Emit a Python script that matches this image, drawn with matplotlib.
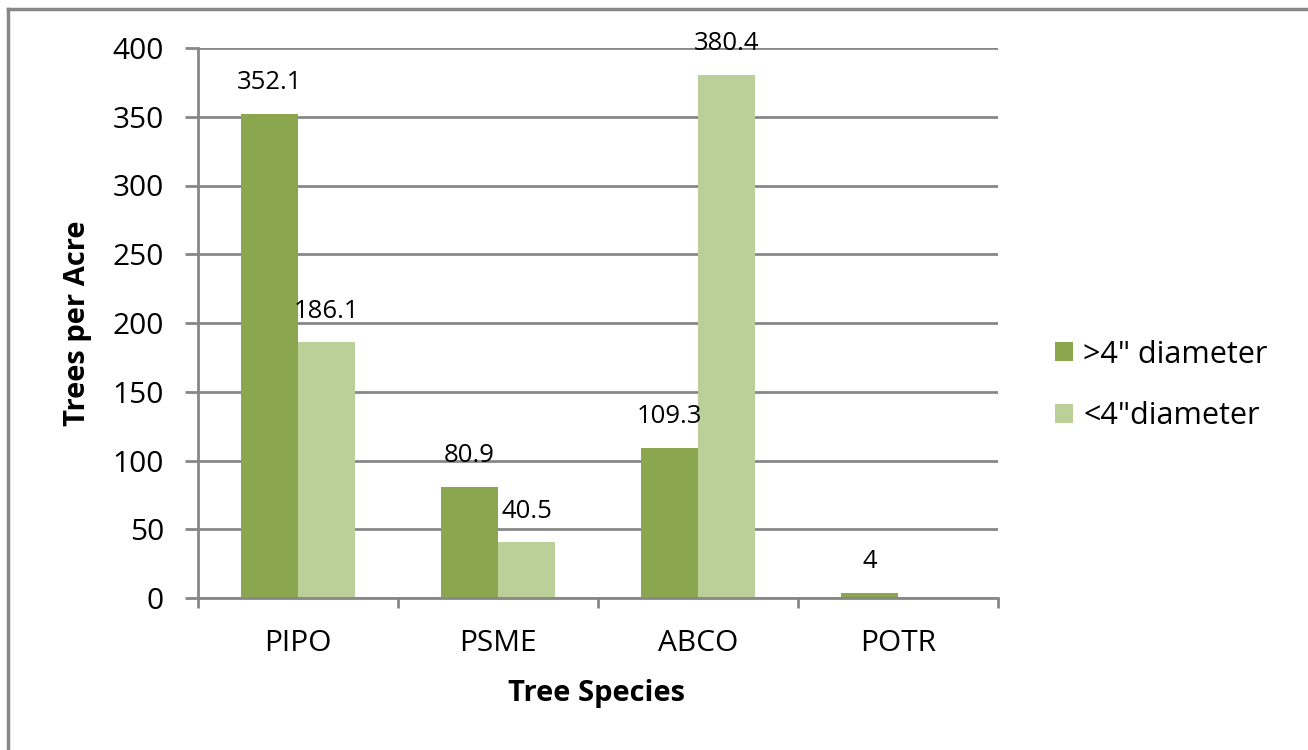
import matplotlib
matplotlib.use("Agg")
import matplotlib.pyplot as plt
import numpy as np
from matplotlib.lines import Line2D

categories = ["PIPO", "PSME", "ABCO", "POTR"]
series_names = ['>4" diameter', '<4"diameter']
large_vals = [352.1, 80.9, 109.3, 4]
small_vals = [186.1, 40.5, 380.4, None]
y_ticks = [0, 50, 100, 150, 200, 250, 300, 350, 400]

dark = "#8AA64F"
light = "#BBD098"
gray = "#878787"

plt.rcParams['font.family'] = ['Open Sans', 'DejaVu Sans']

fig = plt.figure(figsize=(13.08, 7.5), dpi=100)
ax = fig.add_axes([198/1308, 1-598/750, 800/1308, 550/750])

x = np.arange(len(categories))
w = 0.285
l_vals = [v for v in large_vals]
s_vals = [v if v is not None else 0 for v in small_vals]
b1 = ax.bar(x - w/2, l_vals, w, color=dark, label=series_names[0], zorder=3)
b2 = ax.bar(x + w/2, s_vals, w, color=light, label=series_names[1], zorder=3)

for xi, v in zip(x - w/2, large_vals):
    ax.annotate(f"{v:g}", (xi, v), xytext=(0, 31), textcoords="offset pixels",
                ha="center", va="center", fontsize=18.5)
for xi, v in zip(x + w/2, small_vals):
    if v is not None:
        ax.annotate(f"{v:g}", (xi, v), xytext=(0, 31), textcoords="offset pixels",
                    ha="center", va="center", fontsize=18.5)

ax.set_xlim(-0.5, len(categories) - 0.5)
ax.set_ylim(0, 400)
ax.set_yticks(y_ticks)
ax.set_yticklabels([str(t) for t in y_ticks], fontsize=21.5)
ax.grid(axis="y", color=gray, linewidth=2, zorder=0)
ax.set_axisbelow(True)

ax.set_xticks(np.arange(-0.5, len(categories)), minor=False)
ax.set_xticklabels([""] * (len(categories) + 1))
ax.set_xticks(x, minor=True)
ax.set_xticklabels(categories, minor=True, fontsize=21.5)
ax.tick_params(axis="x", which="major", length=7.5, width=2, color=gray, direction="out")
ax.tick_params(axis="x", which="minor", length=0, pad=22)
ax.tick_params(axis="y", length=9.5, width=2, color=gray, pad=15)

for s in ["top", "right"]:
    ax.spines[s].set_visible(False)
for s in ["left", "bottom"]:
    ax.spines[s].set_color(gray)
    ax.spines[s].set_linewidth(2)
    ax.spines[s].set_zorder(4)

fig.text(597/1308, 1-693/750, "Tree Species", fontsize=21, fontweight="bold",
         ha="center", va="center")
fig.text(78/1308, 1-323/750, "Trees per Acre", fontsize=21, fontweight="bold",
         ha="center", va="center", rotation=90)

leg = fig.legend(handles=[b1, b2], loc="center left", bbox_to_anchor=(1055/1308, 1-385.5/750),
                 frameon=False, fontsize=22, handlelength=0.59, handleheight=0.59,
                 handletextpad=0.33, labelspacing=1.04, borderpad=0, borderaxespad=0)

fig.add_artist(Line2D([8/1308, 8/1308], [0, 1-9/750], color=gray, linewidth=2.5))
fig.add_artist(Line2D([8/1308, 1], [1-9/750, 1-9/750], color=gray, linewidth=2.5))

fig.savefig("out.png", dpi=100)
